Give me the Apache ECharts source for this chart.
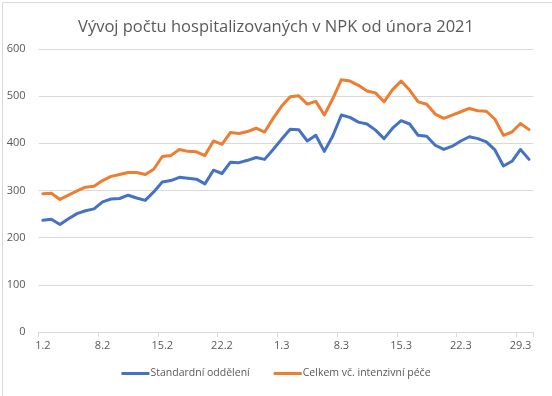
<!DOCTYPE html>
<html>
<head>
<meta charset="utf-8">
<script src="https://cdn.jsdelivr.net/npm/echarts@6/dist/echarts.min.js"></script>
<style>
  html, body { margin: 0; padding: 0; background: #fff; }
  #chart { width: 552px; height: 396px; }
</style>
</head>
<body>
<div id="chart"></div>
<script>
// dny od 1.2. do 30.3.2021
const days = []
for (let d = 1; d <= 28; d++) days.push(d + '.2')
for (let d = 1; d <= 30; d++) days.push(d + '.3')

const standard = [
  237, 239, 228, 240, 251, 257, 261, 276, 282, 283,
  290, 284, 279, 297, 318, 321, 328, 326, 324, 314,
  343, 336, 360, 359, 364, 370, 366, 387, 409, 430,
  429, 405, 417, 383, 416, 460, 455, 445, 441, 428,
  410, 432, 448, 441, 417, 415, 396, 387, 394, 405,
  414, 410, 403, 386, 352, 362, 387, 366,
]

const total = [
  293, 294, 281, 290, 299, 307, 309, 321, 330, 334,
  338, 338, 334, 345, 372, 374, 387, 383, 382, 374,
  405, 398, 423, 421, 425, 432, 424, 453, 479, 499,
  501, 483, 489, 460, 495, 535, 532, 523, 511, 507,
  488, 514, 532, 513, 488, 483, 462, 453, 460, 467,
  474, 469, 468, 451, 417, 424, 442, 429,
]

const seriesNames = ['Standardní oddělení', 'Celkem vč. intenzivní péče']
const colors = ['#4472C4', '#ED7D31']
const font = "'Open Sans', 'Noto Sans', sans-serif"

const chart = echarts.init(document.getElementById('chart'))

chart.setOption({
  animation: false,
  backgroundColor: '#fff',
  textStyle: { fontFamily: font },
  // rámeček grafu jako v Excelu
  graphic: [{
    type: 'rect',
    left: 0,
    top: 0,
    shape: { x: 0.5, y: 0.5, width: 551, height: 395 },
    style: { fill: 'none', stroke: '#d9d9d9', lineWidth: 1 },
    silent: true,
  }],
  title: {
    text: 'Vývoj počtu hospitalizovaných v NPK od února 2021',
    left: 'center',
    top: 14,
    textStyle: { fontSize: 16.5, fontWeight: 'normal', color: '#595959', fontFamily: font },
  },
  grid: { left: 38.6, right: 18.7, top: 49, bottom: 64 },
  legend: {
    bottom: 12,
    left: 'center',
    itemWidth: 28,
    itemHeight: 3,
    itemGap: 24,
    icon: 'rect',
    textStyle: { fontSize: 10.5, color: '#595959', padding: [0, 0, 0, -4] },
    data: seriesNames,
  },
  xAxis: {
    type: 'category',
    data: days,
    boundaryGap: true,
    axisLine: { lineStyle: { color: '#d9d9d9' } },
    axisTick: { show: true, interval: 6, length: 5, lineStyle: { color: '#d9d9d9' } },
    axisLabel: { interval: 6, color: '#595959', fontSize: 11, margin: 8 },
  },
  yAxis: {
    type: 'value',
    min: 0,
    max: 600,
    interval: 100,
    axisLine: { show: false },
    axisTick: { show: false },
    axisLabel: { color: '#595959', fontSize: 11, margin: 13 },
    splitLine: { lineStyle: { color: '#d9d9d9' } },
  },
  series: [
    {
      name: seriesNames[0],
      type: 'line',
      data: standard,
      symbol: 'none',
      color: colors[0],
      lineStyle: { width: 3, color: colors[0], cap: 'round', join: 'round' },
    },
    {
      name: seriesNames[1],
      type: 'line',
      data: total,
      symbol: 'none',
      color: colors[1],
      lineStyle: { width: 3, color: colors[1], cap: 'round', join: 'round' },
    },
  ],
})
</script>
</body>
</html>
